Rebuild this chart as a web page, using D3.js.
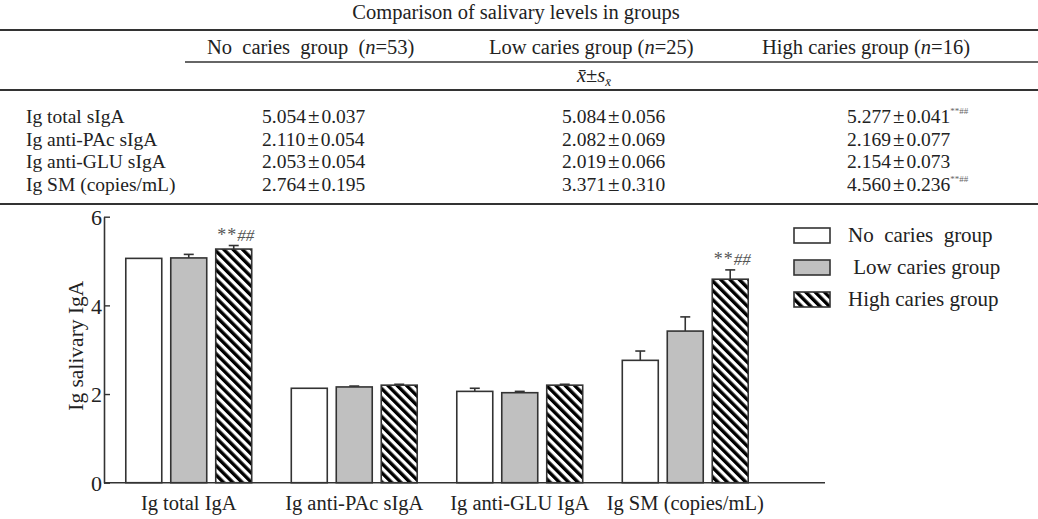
<!DOCTYPE html>
<html>
<head>
<meta charset="utf-8">
<script src="https://cdn.jsdelivr.net/npm/d3@7"></script>
<style>
  body { margin: 0; background: #fff; }
  svg { display: block; font-family: "Liberation Serif", "Times New Roman", serif; }
</style>
</head>
<body>
<div id="chart"></div>
<script>
// Table values
const tableTitle = "Comparison of salivary levels in groups";
const tableGroups = ["No  caries  group  ", "Low caries group ", "High caries group "];
const tableN = [53, 25, 16];
const tableRows = ["Ig total sIgA", "Ig anti-PAc sIgA", "Ig anti-GLU sIgA", "Ig SM (copies/mL)"];
const noTableMean = ["5.054", "2.110", "2.053", "2.764"];
const noTableSE = ["0.037", "0.054", "0.054", "0.195"];
const lowTableMean = ["5.084", "2.082", "2.019", "3.371"];
const lowTableSE = ["0.056", "0.069", "0.066", "0.310"];
const highTableMean = ["5.277", "2.169", "2.154", "4.560"];
const highTableSE = ["0.041", "0.077", "0.073", "0.236"];
const tableSig = ["**##", "", "", "**##"];

// Chart values
const categories = ["Ig total IgA", "Ig anti-PAc sIgA", "Ig anti-GLU IgA", "Ig SM (copies/mL)"];
const groups = ["No caries group", "Low caries group", "High caries group"];
const legendLabels = ["No  caries  group", " Low caries group", "High caries group"];
const noMeans = [5.06, 2.13, 2.06, 2.76];
const noErr = [0, 0, 0.07, 0.21];
const lowMeans = [5.07, 2.16, 2.03, 3.42];
const lowErr = [0.08, 0.02, 0.03, 0.32];
const highMeans = [5.27, 2.20, 2.20, 4.59];
const highErr = [0.08, 0.02, 0.02, 0.21];
const sigStars = ["**", "", "", "**"];
const sigHashes = ["##", "", "", "##"];
const yTicks = [0, 2, 4, 6];

const width = 1038, height = 519;
const ink = "#333";

const svg = d3.select("#chart").append("svg")
  .attr("width", width)
  .attr("height", height);

// Hatch pattern
const defs = svg.append("defs");
const pat = defs.append("pattern")
  .attr("id", "hatch")
  .attr("patternUnits", "userSpaceOnUse")
  .attr("width", 6.6)
  .attr("height", 10)
  .attr("patternTransform", "rotate(-45)");
pat.append("rect").attr("width", 6.6).attr("height", 10).attr("fill", "#fff");
pat.append("rect").attr("width", 3.4).attr("height", 10).attr("fill", "#000");

const fills = ["#fff", "#c0c0c0", "url(#hatch)"];

// ---- Table ----
const table = svg.append("g").attr("font-size", "20.5px").attr("fill", "#222");

table.append("text")
  .attr("x", 516).attr("y", 19)
  .attr("text-anchor", "middle")
  .text(tableTitle);

const rule = (x1, x2, y, w) => table.append("line")
  .attr("x1", x1).attr("x2", x2).attr("y1", y).attr("y2", y)
  .attr("stroke", ink).attr("stroke-width", w);

rule(0, width, 30, 2);
rule(185, width, 62, 1.3);
rule(0, width, 90, 2);
rule(0, width, 204, 2);

const headerX = [207, 489, 762];
const valueX = [262, 562, 847];

tableGroups.forEach((g, i) => {
  const t = table.append("text")
    .attr("x", headerX[i]).attr("y", 54)
    .attr("xml:space", "preserve")
    .style("white-space", "pre");
  t.append("tspan").text(g + "(");
  t.append("tspan").attr("font-style", "italic").text("n");
  t.append("tspan").text("=" + tableN[i] + ")");
});

// x̄ ± s_x̄
const stat = table.append("text").attr("x", 594).attr("y", 82).attr("text-anchor", "middle");
stat.append("tspan").attr("font-style", "italic").text("x\u0304");
stat.append("tspan").text("±");
stat.append("tspan").attr("font-style", "italic").text("s");
stat.append("tspan").attr("font-style", "italic").attr("font-size", "13px").attr("dy", 4).text("x\u0304");

const rowY = d3.scalePoint().domain(tableRows).range([123, 191]);
const cols = [[noTableMean, noTableSE], [lowTableMean, lowTableSE], [highTableMean, highTableSE]];

tableRows.forEach((r, ri) => {
  table.append("text").attr("x", 26).attr("y", rowY(r)).attr("font-size", "19.5px").text(r);
  cols.forEach(([m, s], ci) => {
    const t = table.append("text").attr("x", valueX[ci]).attr("y", rowY(r)).attr("font-size", "19.5px");
    t.append("tspan").text(m[ri]);
    t.append("tspan").attr("dx", 2).attr("font-size", "21px").text("±");
    t.append("tspan").attr("dx", 2).text(s[ri]);
    if (ci === 2 && tableSig[ri]) {
      t.append("tspan").attr("font-size", "9px").attr("dy", -9).attr("fill", "#666").text(tableSig[ri]);
    }
  });
});

// ---- Bar chart ----
const x0 = d3.scaleBand().domain(categories).range([106, 768]);
const x1 = d3.scaleBand().domain(groups).range([0, x0.bandwidth()])
  .paddingInner(0.2).paddingOuter(0.44);
const y = d3.scaleLinear().domain([0, 6]).range([482.7, 216.7]);

const series = [
  { group: groups[0], means: noMeans, errs: noErr },
  { group: groups[1], means: lowMeans, errs: lowErr },
  { group: groups[2], means: highMeans, errs: highErr }
];

const bars = [];
categories.forEach((c, ci) => {
  series.forEach((s, si) => {
    bars.push({ cat: c, group: s.group, si, value: s.means[ci], err: s.errs[ci] });
  });
});

const chart = svg.append("g");

// error bars (drawn behind bars)
const eb = chart.selectAll(".err").data(bars.filter(d => d.err > 0)).enter().append("g");
eb.append("line")
  .attr("x1", d => x0(d.cat) + x1(d.group) + x1.bandwidth() / 2)
  .attr("x2", d => x0(d.cat) + x1(d.group) + x1.bandwidth() / 2)
  .attr("y1", d => y(d.value))
  .attr("y2", d => y(d.value + d.err))
  .attr("stroke", ink).attr("stroke-width", 1.6);
eb.append("line")
  .attr("x1", d => x0(d.cat) + x1(d.group) + x1.bandwidth() / 2 - 5)
  .attr("x2", d => x0(d.cat) + x1(d.group) + x1.bandwidth() / 2 + 5)
  .attr("y1", d => y(d.value + d.err))
  .attr("y2", d => y(d.value + d.err))
  .attr("stroke", ink).attr("stroke-width", 1.6);

chart.selectAll(".bar").data(bars).enter().append("rect")
  .attr("class", "bar")
  .attr("x", d => x0(d.cat) + x1(d.group))
  .attr("y", d => y(d.value))
  .attr("width", x1.bandwidth())
  .attr("height", d => y(0) - y(d.value))
  .attr("fill", d => fills[d.si])
  .attr("stroke", ink)
  .attr("stroke-width", 1.6);

// significance marks over high caries bars
const sig = chart.selectAll(".sig").data(categories.map((c, i) => ({ c, i })).filter(d => sigStars[d.i]))
  .enter().append("text")
  .attr("x", d => x0(d.c) + x1(groups[2]) + x1.bandwidth() / 2 + 2)
  .attr("y", d => y(highMeans[d.i] + highErr[d.i]) - 5)
  .attr("text-anchor", "middle")
  .attr("font-size", "18px")
  .attr("fill", "#555");
sig.append("tspan").attr("letter-spacing", "1px").text(d => sigStars[d.i]);
sig.append("tspan").attr("font-style", "italic").attr("font-size", "17px").text(d => sigHashes[d.i]);

// y axis
const yAxis = chart.append("g")
  .attr("transform", `translate(104,0)`)
  .call(d3.axisLeft(y).tickValues(yTicks).tickFormat(d3.format("d"))
    .tickSizeInner(-6).tickSizeOuter(0).tickPadding(2));
yAxis.select(".domain").attr("stroke", ink).attr("stroke-width", 1.6);
yAxis.selectAll(".tick line").attr("stroke", ink).attr("stroke-width", 1.4);
yAxis.selectAll(".tick text")
  .attr("font-family", "Liberation Serif").attr("font-size", "22px").attr("fill", "#222")
  .attr("dy", "0.35em");

// x axis
const xAxis = chart.append("g")
  .attr("transform", `translate(0,${y(0)})`)
  .call(d3.axisBottom(x0).tickSize(0).tickPadding(13));
xAxis.select(".domain").remove();
xAxis.selectAll(".tick text")
  .attr("font-family", "Liberation Serif").attr("font-size", "20.5px").attr("fill", "#222");
chart.append("line")
  .attr("x1", 104).attr("x2", 825)
  .attr("y1", y(0)).attr("y2", y(0))
  .attr("stroke", ink).attr("stroke-width", 1.6);

// y label
chart.append("text")
  .attr("transform", `translate(83,${(y(0) + y(6)) / 2 - 4}) rotate(-90)`)
  .attr("text-anchor", "middle")
  .attr("font-size", "21.5px")
  .attr("fill", "#222")
  .text("Ig salivary IgA");

// legend
const legend = chart.append("g").attr("transform", "translate(794,228)");
const leg = legend.selectAll(".leg").data(groups).enter().append("g")
  .attr("transform", (d, i) => `translate(0,${i * 32})`);
leg.append("rect")
  .attr("width", 36).attr("height", 15)
  .attr("fill", (d, i) => fills[i])
  .attr("stroke", ink).attr("stroke-width", 1.6);
leg.append("text")
  .attr("x", 54).attr("y", 14)
  .attr("font-size", "21px")
  .attr("fill", "#222")
  .style("white-space", "pre")
  .text((d, i) => legendLabels[i]);
</script>
</body>
</html>
